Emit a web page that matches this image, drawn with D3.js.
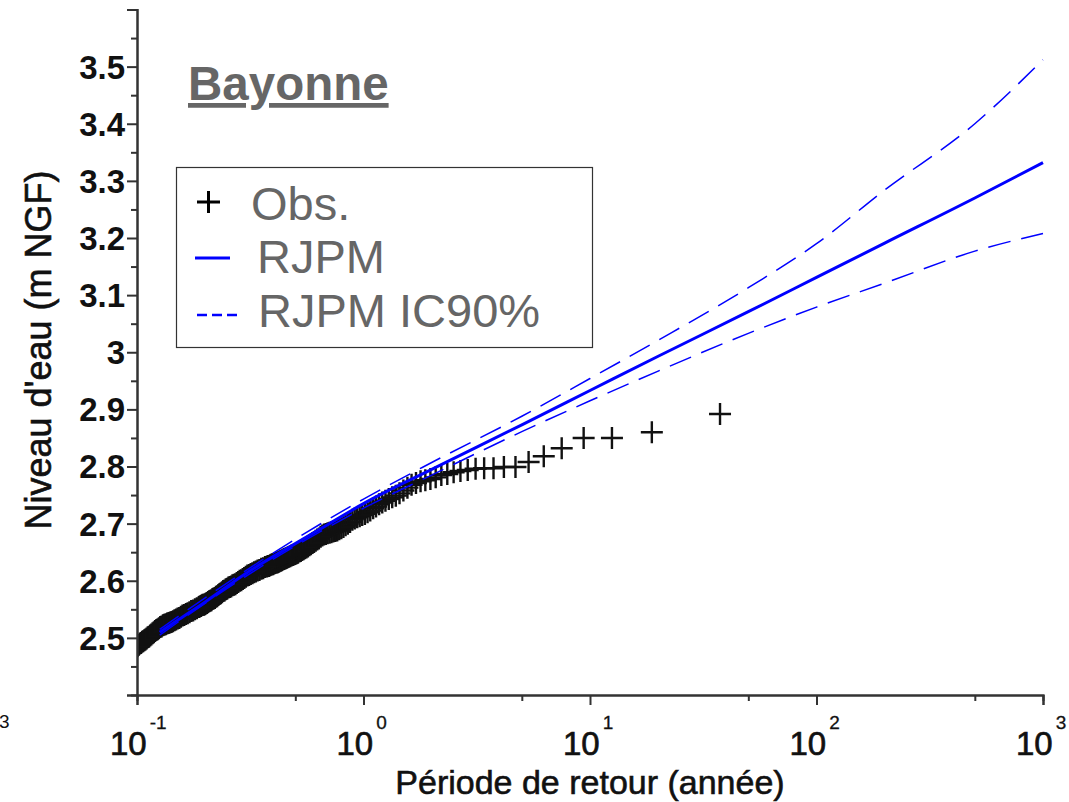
<!DOCTYPE html>
<html>
<head>
<meta charset="utf-8">
<script src="https://cdnjs.cloudflare.com/ajax/libs/d3/7.8.5/d3.min.js"></script>
<style>
  body { margin: 0; background: #fff; }
  svg { display: block; font-family: "Liberation Sans", Arial, sans-serif; }
</style>
</head>
<body>
<script>

// observations: return period (years) and sorted water level (m NGF)
var obsT = [37.5, 18.75, 12.5, 9.375, 7.5, 6.25, 5.357, 4.688, 4.167, 3.75,
  3.409, 3.125, 2.885, 2.679, 2.5, 2.344, 2.206, 2.083, 1.974, 1.875,
  1.786, 1.705, 1.630, 1.563, 1.5, 1.442, 1.389, 1.339, 1.293, 1.25,
  1.210, 1.172, 1.136, 1.103, 1.071, 1.042, 1.014, 0.987, 0.962, 0.938,
  0.9146, 0.8929, 0.8721, 0.8523, 0.8333, 0.8152, 0.7979, 0.7813, 0.7653, 0.75,
  0.7353, 0.7212, 0.7075, 0.6944, 0.6818, 0.6696, 0.6579, 0.6466, 0.6356, 0.625,
  0.6148, 0.6048, 0.5952, 0.5859, 0.5769, 0.5682, 0.5597, 0.5515, 0.5435, 0.5357,
  0.5282, 0.5208, 0.5137, 0.5068, 0.5, 0.4934, 0.4870, 0.4808, 0.4747, 0.4688,
  0.4630, 0.4573, 0.4518, 0.4464, 0.4412, 0.4360, 0.4310, 0.4261, 0.4213, 0.4167,
  0.4121, 0.4076, 0.4032, 0.3989, 0.3947, 0.3906, 0.3866, 0.3827, 0.3788, 0.375,
  0.3676, 0.3606, 0.3538, 0.3472, 0.3409, 0.3348, 0.3289, 0.3233, 0.3178, 0.3125,
  0.3074, 0.3024, 0.2976, 0.2930, 0.2885, 0.2841, 0.2799, 0.2757, 0.2717, 0.2679,
  0.2641, 0.2604, 0.2568, 0.2534, 0.25, 0.2467, 0.2435, 0.2404, 0.2373, 0.2344,
  0.2315, 0.2287, 0.2259, 0.2232, 0.2206, 0.2180, 0.2155, 0.2131, 0.2107, 0.2083,
  0.2060, 0.2038, 0.2016, 0.1995, 0.1974, 0.1953, 0.1933, 0.1913, 0.1894, 0.1875,
  0.1838, 0.1803, 0.1769, 0.1736, 0.1705, 0.1674, 0.1645, 0.1616, 0.1589, 0.1563,
  0.1537, 0.1512, 0.1488, 0.1465, 0.1442, 0.1420, 0.1399, 0.1379, 0.1359, 0.1339,
  0.1320, 0.1302, 0.1284, 0.1267, 0.125, 0.1234, 0.1218, 0.1202, 0.1187, 0.1172,
  0.1157, 0.1143, 0.1130, 0.1116, 0.1103, 0.1090, 0.1078, 0.1065, 0.1053, 0.1042,
  0.1030, 0.1019, 0.1008, 0.1];

var obsLevel = [2.892, 2.860, 2.850, 2.850, 2.832, 2.818, 2.808, 2.799, 2.799, 2.797,
  2.797, 2.796, 2.794, 2.792, 2.790, 2.787, 2.785, 2.781, 2.778, 2.776,
  2.774, 2.771, 2.768, 2.763, 2.758, 2.753, 2.749, 2.746, 2.743, 2.740,
  2.737, 2.734, 2.730, 2.727, 2.723, 2.720, 2.717, 2.715, 2.713, 2.711,
  2.709, 2.707, 2.703, 2.700, 2.697, 2.694, 2.692, 2.690, 2.688, 2.687,
  2.686, 2.685, 2.684, 2.683, 2.682, 2.681, 2.679, 2.677, 2.674, 2.672,
  2.670, 2.668, 2.666, 2.664, 2.662, 2.660, 2.658, 2.657, 2.655, 2.654,
  2.652, 2.651, 2.649, 2.648, 2.647, 2.646, 2.645, 2.644, 2.643, 2.642,
  2.641, 2.640, 2.639, 2.638, 2.637, 2.636, 2.635, 2.634, 2.633, 2.632,
  2.632, 2.631, 2.630, 2.629, 2.629, 2.628, 2.627, 2.626, 2.626, 2.625,
  2.624, 2.622, 2.621, 2.619, 2.618, 2.616, 2.615, 2.613, 2.612, 2.610,
  2.609, 2.607, 2.605, 2.603, 2.601, 2.600, 2.598, 2.596, 2.594, 2.593,
  2.592, 2.590, 2.589, 2.588, 2.586, 2.585, 2.583, 2.582, 2.580, 2.578,
  2.577, 2.575, 2.573, 2.572, 2.570, 2.569, 2.568, 2.566, 2.565, 2.564,
  2.563, 2.561, 2.560, 2.559, 2.558, 2.558, 2.557, 2.556, 2.555, 2.554,
  2.552, 2.550, 2.548, 2.547, 2.545, 2.543, 2.542, 2.540, 2.539, 2.537,
  2.535, 2.534, 2.532, 2.531, 2.529, 2.528, 2.527, 2.526, 2.525, 2.524,
  2.523, 2.522, 2.520, 2.519, 2.517, 2.515, 2.514, 2.512, 2.510, 2.508,
  2.506, 2.504, 2.502, 2.501, 2.499, 2.497, 2.496, 2.494, 2.493, 2.491,
  2.490, 2.488, 2.486, 2.485];

// RJPM fit
var fitT = [0.126, 0.15, 0.2, 0.3, 0.5, 0.7, 1, 2, 5, 10, 20, 50, 100, 200, 500, 1000];
var fitLevel = [2.510, 2.530, 2.563, 2.612, 2.665, 2.699, 2.735, 2.795, 2.873, 2.933,
  2.993, 3.071, 3.131, 3.191, 3.270, 3.332];

// RJPM IC90%
var ciT = [0.126, 0.3, 1, 2, 5, 10, 20, 50, 100, 200, 500, 1000];
var ciUpper = [2.515, 2.617, 2.743, 2.807, 2.888, 2.954, 3.021, 3.113, 3.190, 3.284, 3.400, 3.512];
var ciLower = [2.505, 2.607, 2.727, 2.785, 2.861, 2.915, 2.967, 3.033, 3.079, 3.121, 3.177, 3.208];

var xMajor = [0.1, 1, 10, 100, 1000];
var xExp = ["-1", "0", "1", "2", "3"];
var xMinor = [0.5, 5, 50, 500];
var yMajor = [2.4, 2.5, 2.6, 2.7, 2.8, 2.9, 3.0, 3.1, 3.2, 3.3, 3.4, 3.5, 3.6];
var yLabels = [2.5, 2.6, 2.7, 2.8, 2.9, 3.0, 3.1, 3.2, 3.3, 3.4, 3.5];
var yMinor = [2.45, 2.55, 2.65, 2.75, 2.85, 2.95, 3.05, 3.15, 3.25, 3.35, 3.45, 3.55];

var width = 1069, height = 802;

var svg = d3.select("body").append("svg")
  .attr("width", width)
  .attr("height", height);

var x = d3.scaleLog().domain([0.1, 1000]).range([137, 1043]);
var y = d3.scaleLinear().domain([2.4, 3.6]).range([695, 9.5]);

svg.append("clipPath").attr("id", "plotclip")
  .append("rect")
  .attr("x", 137).attr("y", 0)
  .attr("width", 1043 - 137 + 12).attr("height", 695);

// observations
var obs = d3.range(obsT.length).map(function (i) { return { t: obsT[i], v: obsLevel[i] }; });
svg.append("g").attr("clip-path", "url(#plotclip)")
  .selectAll("path.obs")
  .data(obs)
  .enter().append("path")
    .attr("class", "obs")
    .attr("d", "M-11,0H11M0,-11V11")
    .attr("transform", function (d) { return "translate(" + x(d.t) + "," + y(d.v) + ")"; })
    .attr("fill", "none")
    .attr("stroke", "#111")
    .attr("stroke-width", 2.4);

var line = d3.line()
  .x(function (d) { return x(d[0]); })
  .y(function (d) { return y(d[1]); })
  .curve(d3.curveMonotoneX);

svg.append("path")
  .datum(d3.zip(ciT, ciUpper))
  .attr("d", line)
  .attr("fill", "none")
  .attr("stroke", "#0000ff")
  .attr("stroke-width", 1.5)
  .attr("stroke-dasharray", "23,11");

svg.append("path")
  .datum(d3.zip(ciT, ciLower))
  .attr("d", line)
  .attr("fill", "none")
  .attr("stroke", "#0000ff")
  .attr("stroke-width", 1.5)
  .attr("stroke-dasharray", "23,11");

svg.append("path")
  .datum(d3.zip(fitT, fitLevel))
  .attr("d", line)
  .attr("fill", "none")
  .attr("stroke", "#0000ff")
  .attr("stroke-width", 3);

// axes
var axisColor = "#333";

svg.append("g").attr("transform", "translate(137,0)")
  .call(d3.axisLeft(y).tickValues(yMajor).tickSize(10).tickFormat(""));
svg.append("g").attr("transform", "translate(137,0)")
  .call(d3.axisLeft(y).tickValues(yMinor).tickSize(6).tickFormat(""));

svg.append("g").attr("transform", "translate(0,695)")
  .call(d3.axisBottom(x).tickValues(xMajor).tickSize(10).tickFormat(""));
svg.append("g").attr("transform", "translate(0,695)")
  .call(d3.axisBottom(x).tickValues(xMinor).tickSize(6).tickFormat(""));

svg.selectAll(".domain").attr("stroke", axisColor).attr("stroke-width", 2);
svg.selectAll(".tick line").attr("stroke", axisColor).attr("stroke-width", 2);

svg.selectAll("text.ylab")
  .data(yLabels)
  .enter().append("text")
    .attr("class", "ylab")
    .attr("x", 125)
    .attr("y", function (d) { return y(d); })
    .attr("dy", "0.36em")
    .attr("text-anchor", "end")
    .attr("font-size", "33px")
    .attr("font-weight", "bold")
    .attr("fill", "#111")
    .text(function (d) { return d === 3 ? "3" : d3.format(".1f")(d); });

var xl = svg.selectAll("text.xlab")
  .data(xMajor)
  .enter().append("text")
    .attr("class", "xlab")
    .attr("x", function (d) { return x(d) - 27; })
    .attr("y", 755)
    .attr("font-size", "33px")
    .attr("fill", "#111")
    .attr("stroke", "#111")
    .attr("stroke-width", 0.7);
xl.append("tspan").text("10");
xl.append("tspan")
  .attr("dy", -26)
  .attr("font-size", "19px")
  .attr("stroke-width", 0.3)
  .attr("dx", 3)
  .text(function (d, i) { return xExp[i]; });

// leftover exponent from the neighbouring panel
svg.append("text")
  .attr("x", -1).attr("y", 728)
  .attr("font-size", "19px")
  .attr("fill", "#111")
  .text("3");

svg.append("text")
  .attr("x", 590).attr("y", 794)
  .attr("text-anchor", "middle")
  .attr("font-size", "34px")
  .attr("fill", "#111")
  .attr("stroke", "#111")
  .attr("stroke-width", 0.6)
  .text("Période de retour (année)");

svg.append("text")
  .attr("transform", "translate(51,350) rotate(-90)")
  .attr("text-anchor", "middle")
  .attr("font-size", "36px")
  .attr("fill", "#111")
  .attr("stroke", "#111")
  .attr("stroke-width", 0.6)
  .text("Niveau d'eau (m NGF)");

// title
svg.append("text")
  .attr("x", 188).attr("y", 100)
  .attr("font-size", "47.5px")
  .attr("font-weight", "bold")
  .attr("fill", "#666")
  .attr("text-decoration", "underline")
  .text("Bayonne");

// legend
var lg = svg.append("g");
lg.append("rect")
  .attr("x", 176.5).attr("y", 167.5)
  .attr("width", 416).attr("height", 180)
  .attr("fill", "#fff")
  .attr("stroke", "#333")
  .attr("stroke-width", 1.2);
lg.append("path")
  .attr("d", "M197,202H220M208.5,191V213")
  .attr("stroke", "#000")
  .attr("stroke-width", 3);
lg.append("line")
  .attr("x1", 195).attr("x2", 230).attr("y1", 258).attr("y2", 258)
  .attr("stroke", "#0000ff").attr("stroke-width", 3);
lg.append("line")
  .attr("x1", 197).attr("x2", 242).attr("y1", 315).attr("y2", 315)
  .attr("stroke", "#0000ff").attr("stroke-width", 2.5)
  .attr("stroke-dasharray", "10,5");

var legendText = ["Obs.", "RJPM", "RJPM IC90%"];
var legendX = [251, 257, 258];
var legendY = [220, 273, 327];
lg.selectAll("text")
  .data(legendText)
  .enter().append("text")
    .attr("x", function (d, i) { return legendX[i]; })
    .attr("y", function (d, i) { return legendY[i]; })
    .attr("font-size", "47px")
    .attr("fill", "#666")
    .text(function (d) { return d; });

</script>
</body>
</html>
